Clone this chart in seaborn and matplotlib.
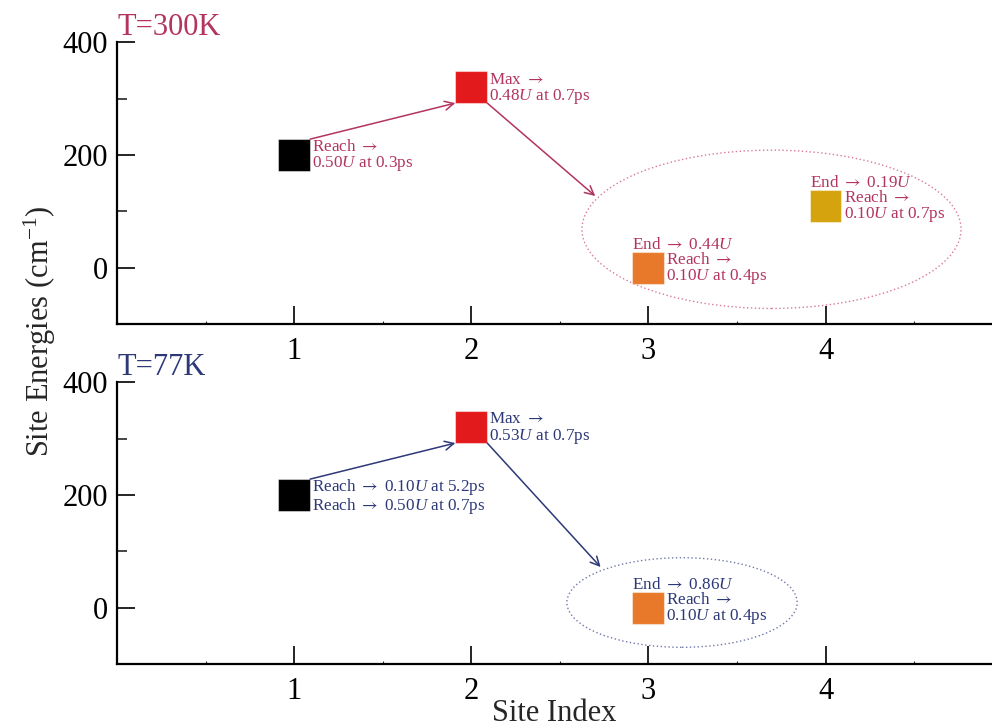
import numpy as np
import pandas as pd
import seaborn as sns
import matplotlib
matplotlib.use("Agg")
import matplotlib.pyplot as plt
from matplotlib.patches import Ellipse
from matplotlib.ticker import FixedLocator, MultipleLocator

sns.set_theme(style="ticks")
plt.rcParams["font.family"] = ["Liberation Serif", "DejaVu Serif"]
plt.rcParams["mathtext.fontset"] = "custom"
plt.rcParams["mathtext.rm"] = "Liberation Serif"
plt.rcParams["mathtext.it"] = "Liberation Serif:italic"
plt.rcParams["mathtext.sf"] = "STIXGeneral"

# ---------------- data ----------------
site_index = [1, 2, 3, 4]
site_colors = ["#000000", "#e31a1c", "#e8792b", "#d5a30d"]

energy_300K = [200, 320, 0, 110]
energy_77K = [200, 320, 0]

AR = r"$\mathsf{\rightarrow}$"
side_300K = [f"Reach {AR}\n0.50$U$ at 0.3ps",
             f"Max {AR}\n0.48$U$ at 0.7ps",
             f"Reach {AR}\n0.10$U$ at 0.4ps",
             f"Reach {AR}\n0.10$U$ at 0.7ps"]
end_300K = [None, None, f"End {AR} 0.44$U$", f"End {AR} 0.19$U$"]

side_77K = [f"Reach {AR} 0.10$U$ at 5.2ps\nReach {AR} 0.50$U$ at 0.7ps",
            f"Max {AR}\n0.53$U$ at 0.7ps",
            f"Reach {AR}\n0.10$U$ at 0.4ps"]
end_77K = [None, None, f"End {AR} 0.86$U$"]

yticks_major = [0, 200, 400]
yticks_minor = [100, 300]
xticks_major = [1, 2, 3, 4]

panels = [
    dict(title="T=300K", energy=energy_300K, side=side_300K, end=end_300K,
         color="#b3345f", ecolor="#d9789c",
         ellipse=((3.695, 68), 2.14, 281), arrow_end=(2.70, 127)),
    dict(title="T=77K", energy=energy_77K, side=side_77K, end=end_77K,
         color="#2d3878", ecolor="#7078aa",
         ellipse=((3.19, 9), 1.30, 159), arrow_end=(2.73, 72)),
]

# ---------------- figure ----------------
fig = plt.figure(figsize=(9.92, 7.28), dpi=100)
ax_top = fig.add_axes([0.118, 0.555, 0.882, 0.387])
ax_bot = fig.add_axes([0.118, 0.088, 0.882, 0.387])

hx, hy = 0.09, 28  # half-size of square marker in data units

for ax, p in zip([ax_top, ax_bot], panels):
    n = len(p["energy"])
    df = pd.DataFrame({"site": site_index[:n], "energy": p["energy"]})
    pal = dict(zip(site_index[:n], site_colors[:n]))
    sns.scatterplot(data=df, x="site", y="energy", hue="site", palette=pal,
                    marker="s", s=530, edgecolor=(1, 1, 1, 0.45), linewidth=0.8,
                    legend=False, ax=ax, zorder=3, clip_on=False)

    ax.set_xlim(0, 4.94)
    ax.set_ylim(-100, 400)
    ax.xaxis.set_major_locator(FixedLocator(xticks_major))
    ax.xaxis.set_minor_locator(MultipleLocator(0.5))
    ax.yaxis.set_major_locator(FixedLocator(yticks_major))
    ax.yaxis.set_minor_locator(FixedLocator(yticks_minor))
    ax.tick_params(axis="both", which="major", direction="in", length=13,
                   width=1.2, labelsize=22, colors="black")
    ax.tick_params(axis="x", which="major", pad=9.5)
    ax.tick_params(axis="y", which="major", pad=6.5)
    ax.tick_params(axis="y", which="minor", direction="in", length=7, width=1.2)
    ax.tick_params(axis="x", which="minor", direction="in", length=2, width=0.8)
    for s in ["top", "right"]:
        ax.spines[s].set_visible(False)
    for s in ["left", "bottom"]:
        ax.spines[s].set_linewidth(1.6)
        ax.spines[s].set_color("black")
    ax.set_xlabel("")
    ax.set_ylabel("")
    ax.set_facecolor("white")

    c = p["color"]
    # panel title
    ax.text(0.0, 1.025, p["title"], transform=ax.transAxes, ha="left",
            va="baseline", fontsize=22, color=c)

    # annotations
    for x, y, txt in zip(site_index[:n], p["energy"], p["side"]):
        ax.annotate(txt, xy=(x, y), xytext=(13, -1.0), textcoords="offset points",
                    ha="left", va="center", fontsize=12.3, color=c,
                    linespacing=0.95, zorder=4)
    for x, y, txt in zip(site_index[:n], p["energy"], p["end"]):
        if txt:
            ax.annotate(txt, xy=(x, y), xytext=(-11.5, 13.5),
                        textcoords="offset points", ha="left", va="baseline",
                        fontsize=12.3, color=c, zorder=4)

    # arrows
    x1, y1 = site_index[0], p["energy"][0]
    x2, y2 = site_index[1], p["energy"][1]
    ap = dict(arrowstyle="->", color=c, lw=1.1, shrinkA=0, shrinkB=0,
              mutation_scale=16)
    ax.annotate("", xy=(x2 - hx, y2 - hy), xytext=(x1 + hx, y1 + hy),
                arrowprops=ap)
    ax.annotate("", xy=p["arrow_end"], xytext=(x2 + hx, y2 - hy),
                arrowprops=ap)

    # dotted ellipse
    (cx, cy), w, h = p["ellipse"]
    ax.add_patch(Ellipse((cx, cy), w, h, fill=False, ec=p["ecolor"],
                         lw=1.0, ls=(0, (1, 1.8)), zorder=2))

fig.text(0.040, 0.545, "Site Energies (cm$^{\\mathregular{-1}}$)", rotation=90,
         ha="center", va="center", fontsize=22)
ax_bot.set_xlabel("Site Index", fontsize=22, labelpad=-5)

fig.savefig("out.png", dpi=100, facecolor="white")
